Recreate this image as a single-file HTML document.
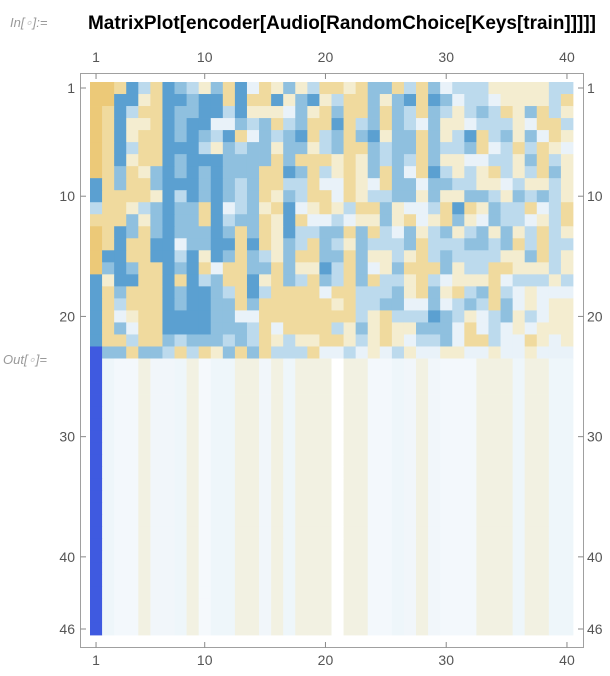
<!DOCTYPE html>
<html><head><meta charset="utf-8"><style>
body{margin:0;background:#fff;width:610px;height:671px;overflow:hidden;font-family:"Liberation Sans",sans-serif}
</style></head><body>
<svg id="s" width="610" height="671" xmlns="http://www.w3.org/2000/svg">
<text x="10" y="27" font-size="13" font-style="italic" fill="#999" font-family="Liberation Sans, sans-serif">In[<tspan fill="#ccc">∘</tspan>]:=</text>
<text x="88" y="29" font-size="19.5" font-weight="bold" fill="#000" font-family="Liberation Sans, sans-serif" textLength="508" lengthAdjust="spacingAndGlyphs">MatrixPlot[encoder[Audio[RandomChoice[Keys[train]]]]]</text>
<text x="3" y="364" font-size="13" font-style="italic" fill="#999" font-family="Liberation Sans, sans-serif">Out[<tspan fill="#ccc">∘</tspan>]=</text>
<g id="cells"></g>
<rect x="80.5" y="73.5" width="503" height="574" fill="none" stroke="#a0a0a0" stroke-width="1"/>
<g id="ax" font-size="14" fill="#555" font-family="Liberation Sans, sans-serif"></g>
</svg>
<script>
var P={Y:"#ecc978",y:"#f0da9e",c:"#f4edd0",w:"#e9f2f9",l:"#bcdaed",b:"#8fc0df",B:"#5ba0d1"};
var L=[
"Y Y y B l y B b l c b y B w y c b c l y y c y b b y l y b w l l l c c c c c l l",
"Y Y B B c y B B b B B y B y y B c b B c l y y b c b B y B b w l l w c c c c l y",
"Y y B l y y B b b B B l B c c c w b c y b y y b y b l y b l c l b l y c b y l c",
"Y y B c c y B b B B w w b l b y l b y y B y l b y b l w b c c w l l l c w y y l",
"Y y B c y y B b B b l B y w b l b B y l b y b B c b b y b c l B y l b c b w y c",
"Y y B l y y B B B l c b l b b c b b c l b y y b l b b y b l l b y w l y l y c w",
"Y y B c y y B b B B B b b b b y b y y y c y c b l b l y b c c w w l l c b y l c",
"Y y b y c b B b B b B b b b y y B b y l c y c b y b w y B l c l c y l c l y b c",
"B y b y y b B B B b B b l b y y l l y w w y c w y b b w b b l l c c w l c c l c",
"B y y y y c B l B b B b l b y c b l y y w y c l l b b c b c c b b l c b l b l c",
"l y y c l b B b b y B w l b c y B w c y c l y y b c w w l y B y c b l l y w l y",
"y y y b c b B b b y B l b b y c B y w w l w c c b c y w c y b c w b l l w c l y",
"Y y B b y b B b b b B b y b y c B l l b b y b y l w b c l b c l b c b c l y l c",
"Y y B y y B B w b b B B y B y c b l y b l c b l l l b y l l l b b l b y l y l l",
"Y B B y y B B l B c B b y b l c b y y b b y b c c l c y l b l l l l c c b y l c",
"Y b B b y y B b B y w y y b b y b c c B l y b w c b y y y b c l l y y c c c l c",
"B c B B y y B y B l b y y B c y b l y b l y b y l l c y l w c c c y w l l l c l",
"B y b y y y B b B B b l y B l y y y y w y y l l l b c y b c y l b y l w c w w w",
"B y l y y y B b B B b b y b y y y y y y c y l l b b w w b w l b l y b w c w c c",
"B y w c y y B B B B b b w w y y y y y y y y l c y l l l B b l c w l b c l w c c",
"B y b w y y B B B B b b b l y w y y y y l c b c y c c b b b w y w l w c w c c c",
"B y y l y y b l b b b l b l y c l c c y y c l c y c w l l b w y y l w w y c w c",
"X b b y b b l y l y c b y b y l l l y w w l w c w l c w w c c w w c w w c w w w"];
var bot="X s t t k u u s k v s s k k u k s k k k W k k t t s u k u t t t k k k s k k s s".split(" ");
var PB={s:"#eef6fa",t:"#f3f8fc",u:"#f1f6fa",v:"#f5f9fc",k:"#f2f1e2",W:"#ffffff",X:"#3f5ae0"};
P.X="#3f5ae0";
var x0=90,cw=483/40,y0=82,ch=553/46,h="";
for(var r=0;r<46;r++){var row=r<23?L[r].split(" "):bot;
 for(var c=0;c<40;c++){var k=row[c];var col=r<23?P[k]:PB[k];
  h+='<rect x="'+(x0+c*cw).toFixed(2)+'" y="'+(y0+r*ch).toFixed(2)+'" width="'+(cw+0.4).toFixed(2)+'" height="'+(ch+0.4).toFixed(2)+'" fill="'+col+'"/>';}}
document.getElementById("cells").innerHTML=h;
var a="";
[1,10,20,30,40].forEach(function(n){var x=x0+(n-0.5)*cw;
 a+='<line x1="'+x+'" y1="73.5" x2="'+x+'" y2="79" stroke="#888"/><line x1="'+x+'" y1="647.5" x2="'+x+'" y2="642" stroke="#888"/>';
 a+='<text x="'+x+'" y="62" text-anchor="middle">'+n+'</text><text x="'+x+'" y="665" text-anchor="middle">'+n+'</text>';});
[1,10,20,30,40,46].forEach(function(n){var y=y0+(n-0.5)*ch;
 a+='<line x1="80.5" y1="'+y+'" x2="86" y2="'+y+'" stroke="#888"/><line x1="583.5" y1="'+y+'" x2="578" y2="'+y+'" stroke="#888"/>';
 a+='<text x="75" y="'+(y+5)+'" text-anchor="end">'+n+'</text><text x="587" y="'+(y+5)+'">'+n+'</text>';});
document.getElementById("ax").innerHTML=a;
</script>
</body></html>
